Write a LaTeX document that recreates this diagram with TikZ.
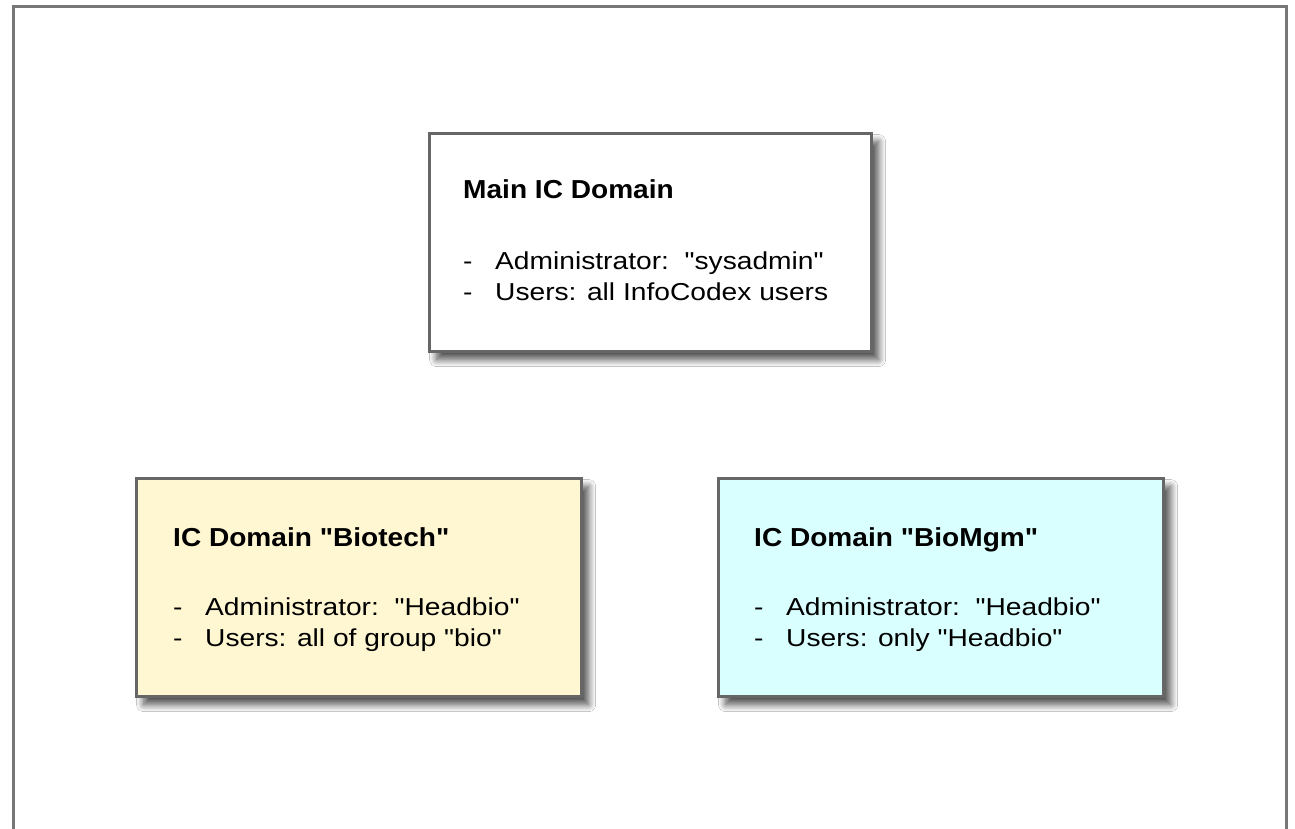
\documentclass[tikz,border=0pt]{standalone}
\usepackage{fontspec}
\setmainfont{Liberation Sans}
\newfontfamily\titlefont[FakeStretch=1.08]{Liberation Sans}
\newfontfamily\bodyfont[FakeStretch=1.15]{Liberation Sans}
\usetikzlibrary{shadows.blur}
\definecolor{framegray}{HTML}{777777}
\definecolor{boxgray}{HTML}{666666}
\definecolor{bioyellow}{HTML}{FFF7D1}
\definecolor{biocyan}{HTML}{D9FFFF}
\tikzset{
  domainbox/.style={draw=boxgray, line width=3.2pt, rectangle, anchor=north west,
    inner sep=0pt, minimum width=#1, minimum height=218pt,
    blur shadow={shadow xshift=7pt, shadow yshift=-8pt, shadow blur radius=7pt, shadow blur steps=12, shadow opacity=70}},
  titletext/.style={anchor=base west, inner sep=0pt, font=\titlefont\bfseries\fontsize{26}{30}\selectfont},
  bodytext/.style={anchor=base west, inner sep=0pt, font=\bodyfont\fontsize{24.5}{28}\selectfont},
}
\newcommand{\dashitem}{\makebox[32pt][l]{-}}
\begin{document}
\begin{tikzpicture}[x=1pt,y=-1pt]
\useasboundingbox (0,0) rectangle (1295,829);
\fill[white] (0,0) rectangle (1295,829);
% outer frame
\coordinate (fbl) at (13,840);
\coordinate (ftl) at (13,7);
\coordinate (ftr) at (1286,7);
\coordinate (fbr) at (1286,840);
\draw[framegray, line width=3pt] (fbl) -- (ftl) -- (ftr) -- (fbr);
% main box
\node[domainbox=442pt, fill=white] (main) at (428,132) {};
\node[titletext] (mainT) at (463,199) {Main IC Domain};
\node[bodytext] (mainA) at (463,269) {\dashitem Administrator:\ \ "sysadmin"};
\node[bodytext] (mainU) at (463,300) {\dashitem Users: all InfoCodex users};
% biotech
\node[domainbox=445pt, fill=bioyellow] (bio) at (135,477) {};
\node[titletext] (bioT) at (173,546) {IC Domain "Biotech"};
\node[bodytext] (bioA) at (173,615) {\dashitem Administrator:\ \ "Headbio"};
\node[bodytext] (bioU) at (173,646) {\dashitem Users: all of group "bio"};
% biomgm
\node[domainbox=445pt, fill=biocyan] (mgm) at (717,477) {};
\node[titletext] (mgmT) at (754,546) {IC Domain "BioMgm"};
\node[bodytext] (mgmA) at (754,615) {\dashitem Administrator:\ \ "Headbio"};
\node[bodytext] (mgmU) at (754,646) {\dashitem Users: only "Headbio"};
\end{tikzpicture}
\end{document}
